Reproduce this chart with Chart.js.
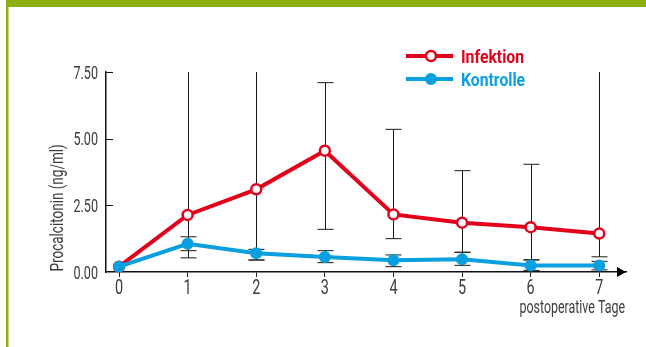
<!DOCTYPE html>
<html>
<head>
<meta charset="utf-8">
<script src="https://cdn.jsdelivr.net/npm/chart.js@4/dist/chart.umd.min.js"></script>
<style>
  html, body { margin: 0; padding: 0; background: #fff; }
  canvas { display: block; }
</style>
</head>
<body>
<canvas id="pctChart" width="646" height="347"></canvas>
<script>
// Tage nach OP
const days = [0, 1, 2, 3, 4, 5, 6, 7];
const yTicks = [0, 2.5, 5, 7.5];
const xTitle = "postoperative Tage";
const yTitle = "Procalcitonin (ng/ml)";

// Mittelwerte PCT (ng/ml)
const infektion = [0.20, 2.14, 3.10, 4.55, 2.16, 1.85, 1.68, 1.44];
const kontrolle = [0.20, 1.06, 0.70, 0.56, 0.44, 0.48, 0.24, 0.24];

// Fehlerbalken: oberes / unteres Ende (über 7.50 wird abgeschnitten)
const infektionHigh = [null, 8, 8, 7.10, 5.35, 3.80, 4.04, 8];
const infektionLow = [null, 0.53, 0.45, 1.60, 1.25, 0.74, 0.46, 0.57];
const kontrolleHigh = [null, 1.32, 0.85, 0.80, 0.64, 0.74, 0.45, 0.40];
const kontrolleLow = [null, 0.80, 0.45, 0.35, 0.20, 0.25, 0.06, 0.08];

const red = "#e2001a";
const blue = "#0a9fdf";
const green = "#8cb010";
const textGrey = "#3c3c3c";

// schmale Schrift: Roboto horizontal gestaucht
function narrowText(ctx, text, x, y, o) {
  ctx.save();
  ctx.translate(x, y);
  if (o.rotate) ctx.rotate(o.rotate);
  ctx.scale(o.sx, 1);
  ctx.font = o.font;
  ctx.fillStyle = o.color || textGrey;
  ctx.textAlign = o.align || "left";
  ctx.textBaseline = "alphabetic";
  ctx.fillText(text, 0, 0);
  ctx.restore();
}

const errorBars = {
  id: "errorBars",
  beforeDatasetsDraw(chart) {
    const { ctx, chartArea, scales } = chart;
    const bars = [
      [infektionHigh, infektionLow],
      [kontrolleHigh, kontrolleLow],
    ];
    ctx.save();
    ctx.strokeStyle = "#1a1a1a";
    ctx.lineWidth = 1;
    bars.forEach(([hi, lo]) => {
      days.forEach((d, i) => {
        if (hi[i] == null) return;
        const px = Math.round(scales.x.getPixelForValue(d)) + 0.5;
        const top = Math.max(scales.y.getPixelForValue(hi[i]), chartArea.top);
        const bottom = Math.min(scales.y.getPixelForValue(lo[i]), chartArea.bottom);
        ctx.beginPath();
        ctx.moveTo(px, top);
        ctx.lineTo(px, bottom);
        if (hi[i] <= 7.5) {
          ctx.moveTo(px - 8, top);
          ctx.lineTo(px + 8, top);
        }
        ctx.moveTo(px - 8, bottom);
        ctx.lineTo(px + 8, bottom);
        ctx.stroke();
      });
    });
    ctx.restore();
  },
};

const frame = {
  id: "frame",
  beforeDraw(chart) {
    const ctx = chart.ctx;
    ctx.save();
    ctx.fillStyle = green;
    ctx.fillRect(6, 0, 640, 7);
    ctx.fillRect(6, 0, 2.5, 347);
    ctx.restore();
  },
  afterDraw(chart) {
    const { ctx, chartArea, scales } = chart;
    ctx.save();

    // kurze Striche nach innen an der y-Achse
    ctx.strokeStyle = "#1a1a1a";
    ctx.lineWidth = 1;
    yTicks.forEach((v) => {
      if (v === 0) return;
      const py = Math.round(scales.y.getPixelForValue(v)) + 0.5;
      ctx.beginPath();
      ctx.moveTo(chartArea.left, py);
      ctx.lineTo(chartArea.left + 7, py);
      ctx.stroke();
    });

    // Pfeil am Ende der x-Achse
    const ay = chartArea.bottom;
    ctx.fillStyle = "#000";
    ctx.beginPath();
    ctx.moveTo(chartArea.right - 9, ay - 5);
    ctx.lineTo(chartArea.right, ay);
    ctx.lineTo(chartArea.right - 9, ay + 5);
    ctx.closePath();
    ctx.fill();

    // Achsenbeschriftung
    scales.y.ticks.forEach((t) => {
      const py = scales.y.getPixelForValue(t.value);
      narrowText(ctx, t.value.toFixed(2), 98, py + 6.5, {
        font: "18.5px Roboto", sx: 0.68, align: "right",
      });
    });
    scales.x.ticks.forEach((t) => {
      const px = scales.x.getPixelForValue(t.value);
      narrowText(ctx, String(t.value), px, 293.5, {
        font: "20px Roboto", sx: 0.72, align: "center",
      });
    });
    narrowText(ctx, xTitle, 625, 313, {
      font: "18px Roboto", sx: 0.69, align: "right",
    });
    narrowText(ctx, yTitle, 62.5, 271.5, {
      font: "18px Roboto", sx: 0.75, align: "left", rotate: -Math.PI / 2,
    });

    // Legende
    const items = [
      { label: "Infektion", color: red, y: 56, hollow: true },
      { label: "Kontrolle", color: blue, y: 79, hollow: false },
    ];
    items.forEach((it) => {
      ctx.strokeStyle = it.color;
      ctx.lineWidth = 4;
      ctx.beginPath();
      ctx.moveTo(406, it.y);
      ctx.lineTo(453, it.y);
      ctx.stroke();
      ctx.beginPath();
      ctx.arc(431, it.y, it.hollow ? 5 : 6, 0, Math.PI * 2);
      if (it.hollow) {
        ctx.fillStyle = "#fff";
        ctx.fill();
        ctx.lineWidth = 2.5;
        ctx.stroke();
      } else {
        ctx.fillStyle = it.color;
        ctx.fill();
      }
      narrowText(ctx, it.label, 461, it.y + 6.5, {
        font: "bold 17.5px Roboto", sx: 0.9, color: it.color,
      });
    });
    ctx.restore();
  },
};

const ctx = document.getElementById("pctChart").getContext("2d");
new Chart(ctx, {
  type: "line",
  data: {
    datasets: [
      {
        label: "Kontrolle",
        data: days.map((d, i) => ({ x: d, y: kontrolle[i] })),
        borderColor: blue,
        backgroundColor: blue,
        borderWidth: 4,
        pointRadius: 6,
        pointBorderWidth: 0,
        pointBackgroundColor: blue,
        tension: 0,
      },
      {
        label: "Infektion",
        data: days.map((d, i) => ({ x: d, y: infektion[i] })),
        borderColor: red,
        backgroundColor: red,
        borderWidth: 4,
        pointRadius: 5,
        pointBorderWidth: 2.5,
        pointBorderColor: red,
        pointBackgroundColor: "#fff",
        tension: 0,
      },
    ],
  },
  options: {
    responsive: false,
    animation: false,
    layout: { padding: { top: 72, right: 20, bottom: 0, left: 0 } },
    plugins: {
      legend: { display: false },
      tooltip: { enabled: false },
    },
    scales: {
      x: {
        type: "linear",
        min: -0.19,
        max: 7.39,
        afterBuildTicks: (s) => {
          s.ticks = days.map((v) => ({ value: v }));
        },
        afterFit: (s) => {
          s.height = 75;
        },
        grid: { drawOnChartArea: false, tickLength: 5, color: "#222" },
        border: { color: "#111", width: 1.5 },
        ticks: { display: false },
      },
      y: {
        min: 0,
        max: 7.5,
        afterBuildTicks: (s) => {
          s.ticks = yTicks.map((v) => ({ value: v }));
        },
        afterFit: (s) => {
          s.width = 106;
        },
        grid: { display: false, drawTicks: false },
        border: { color: "#111", width: 1.5 },
        ticks: { display: false },
      },
    },
  },
  plugins: [errorBars, frame],
});
</script>
</body>
</html>
